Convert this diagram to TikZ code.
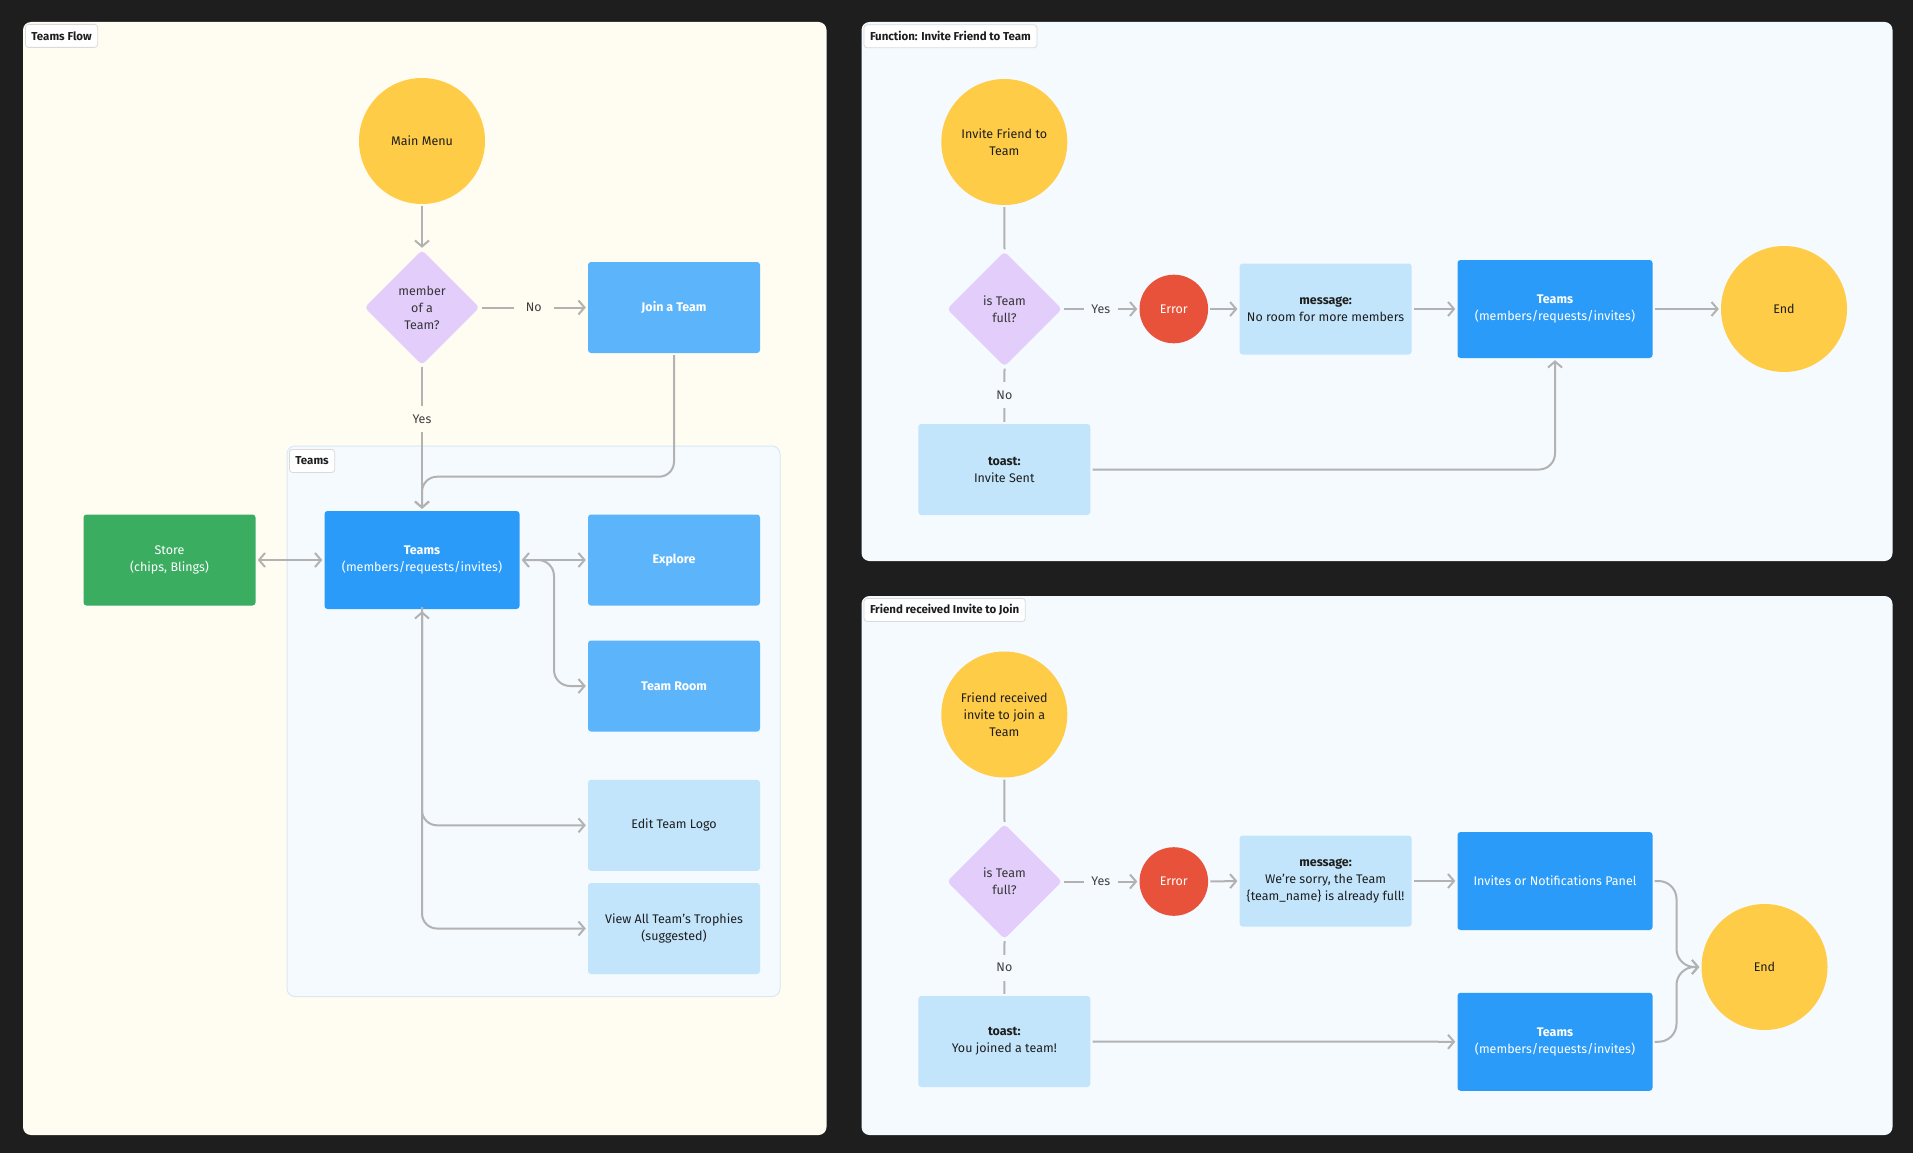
\documentclass[tikz,border=0pt]{standalone}
\usepackage{fontspec}
\setmainfont{Fira Sans}
\usetikzlibrary{shapes.geometric,arrows.meta,calc}

\definecolor{bgdark}{HTML}{1E1E1E}
\definecolor{cream}{HTML}{FFFDF1}
\definecolor{panelblue}{HTML}{F5FAFF}
\definecolor{subedge}{HTML}{D9E8F5}
\definecolor{yel}{HTML}{FFCC47}
\definecolor{lilac}{HTML}{E3CDFB}
\definecolor{midblue}{HTML}{5CB4FA}
\definecolor{deepblue}{HTML}{2B9BF9}
\definecolor{paleblue}{HTML}{C2E5FC}
\definecolor{grn}{HTML}{3AAD61}
\definecolor{errred}{HTML}{E9523A}
\definecolor{conngray}{HTML}{B2B2B2}
\definecolor{ink}{HTML}{1E1E1E}
\definecolor{tagedge}{HTML}{DADADA}

\begin{document}
\begin{tikzpicture}[x=1pt,y=-1pt,
  >={Straight Barb[length=6pt,width=14pt]},
  every node/.style={font=\fontsize{12.5}{17}\selectfont, text=ink},
  boxbase/.style={rectangle, rounded corners=3pt, inner sep=0pt, align=center},
  lbox/.style={boxbase, minimum width=172pt, minimum height=91pt},
  wbox/.style={boxbase, minimum width=195pt, minimum height=98pt},
  midbox/.style={lbox, fill=midblue, text=white, font=\fontsize{12.5}{17}\selectfont\bfseries},
  palebox/.style={lbox, fill=paleblue},
  deepbox/.style={wbox, fill=deepblue, text=white},
  greenbox/.style={lbox, fill=grn, text=white},
  startcirc/.style={circle, minimum size=126pt, inner sep=0pt, fill=yel, align=center},
  errcirc/.style={circle, minimum size=68.6pt, inner sep=0pt, fill=errred, text=white},
  decision/.style={diamond, minimum width=115pt, minimum height=115pt, inner sep=0pt, fill=lilac, rounded corners=4pt, align=center, text=ink!90},
  conn/.style={draw=conngray, line width=2pt, shorten >=2pt, shorten <=2pt},
  lab/.style={fill=#1, inner sep=0pt, minimum width=40pt, minimum height=26pt, text=ink!85},
  tag/.style={draw=tagedge, line width=0.8pt, fill=white, rounded corners=3pt, inner xsep=6pt, minimum height=23pt, anchor=north west, font=\fontsize{11.5}{13}\selectfont\bfseries},
]
\useasboundingbox (0,0) rectangle (1913,1153);
\fill[bgdark] (0,0) rectangle (1913,1153);

% ---------- panels ----------
\fill[cream, rounded corners=8pt] (23,22) rectangle (826.5,1135);
\fill[panelblue, rounded corners=8pt] (861.5,22) rectangle (1892.5,561);
\fill[panelblue, rounded corners=8pt] (861.5,596) rectangle (1892.5,1135);
\draw[subedge, line width=1pt, fill=panelblue, rounded corners=8pt] (287,446) rectangle (780,996.5);

\node[tag] (t1) at (25,24) {Teams Flow};
\node[tag] (t2) at (289,449) {Teams};
\node[tag] (t3) at (863.6,24.4) {Function: Invite Friend to Team};
\node[tag] (t4) at (863.6,598) {Friend received Invite to Join};

% ---------- Teams Flow ----------
\node[startcirc] (mm) at (422,141) {Main Menu};
\node[decision] (mq) at (422,307.5) {member\\of a\\Team?};
\node[midbox] (join) at (674,307.5) {Join a Team};
\node[deepbox] (tm) at (422,560) {\textbf{Teams}\\(members/requests/invites)};
\node[greenbox] (store) at (169.5,560) {Store\\(chips, Blings)};
\node[midbox] (explore) at (674,560) {Explore};
\node[midbox] (room) at (674,686) {Team Room};
\node[palebox] (logo) at (674,825.3) {Edit Team Logo};
\node[palebox] (troph) at (674,928.5) {View All Team’s Trophies\\(suggested)};

\coordinate (jy) at (0,476.7);
\coordinate (bx) at (554,0);

\draw[conn,->] (mm.south) -- (mq.north);
\draw[conn,->] (mq.east) -- node[lab=cream] {No} (join.west);
\draw[conn,->, rounded corners=15pt] (join.south) -- (join.south |- jy) -- (tm.north |- jy) -- (tm.north);
\draw[conn,->] (mq.south) -- node[lab=cream, pos=0.37] {Yes} (tm.north);
\draw[conn,<->] (store.east) -- (tm.west);
\draw[conn,<->] (tm.east) -- (explore.west);
\draw[conn,->, rounded corners=16pt] ([xshift=4pt]tm.east) -- (tm.east -| bx) -- (room.west -| bx) -- (room.west);
\draw[conn,<->, rounded corners=15pt] (tm.south) |- (troph.west);
\draw[conn,->, rounded corners=15pt] ([yshift=4pt]tm.south) |- (logo.west);

% ---------- Invite Friend ----------
\node[startcirc] (inv) at (1004.3,142) {Invite Friend to\\Team};
\node[decision] (q1) at (1004.5,309) {is Team\\full?};
\node[errcirc] (e1) at (1173.8,309) {Error};
\node[palebox] (m1) at (1325.6,309) {\textbf{message:}\\No room for more members};
\node[deepbox] (tm1) at (1555,309) {\textbf{Teams}\\(members/requests/invites)};
\node[startcirc] (end1) at (1784,309) {End};
\node[palebox] (ts1) at (1004.3,469.5) {\textbf{toast:}\\Invite Sent};

\draw[conn] (inv.south) -- (q1.north);
\draw[conn,->] (q1.east) -- node[lab=panelblue, minimum width=34pt] {Yes} (e1.west);
\draw[conn,->] (e1.east) -- (m1.west);
\draw[conn,->] (m1.east) -- (tm1.west);
\draw[conn,->] (tm1.east) -- (end1.west);
\draw[conn] (q1.south) -- node[lab=panelblue] {No} (ts1.north);
\draw[conn,->, rounded corners=16pt] (ts1.east) -| (tm1.south);

% ---------- Friend received ----------
\node[startcirc] (fr) at (1004.3,714.5) {Friend received\\invite to join a\\Team};
\node[decision] (q2) at (1004.5,881.5) {is Team\\full?};
\node[errcirc] (e2) at (1173.8,881.5) {Error};
\node[palebox] (m2) at (1325.6,881) {\textbf{message:}\\We’re sorry, the Team\\\{team\_name\} is already full!};
\node[deepbox] (inv2) at (1555,881) {Invites or Notifications Panel};
\node[startcirc] (end2) at (1764.5,967) {End};
\node[palebox] (ts2) at (1004.3,1041.5) {\textbf{toast:}\\You joined a team!};
\node[deepbox] (tm2) at (1555,1041.75) {\textbf{Teams}\\(members/requests/invites)};

\coordinate (ex) at (1676.5,0);

\draw[conn] (fr.south) -- (q2.north);
\draw[conn,->] (q2.east) -- node[lab=panelblue, minimum width=34pt] {Yes} (e2.west);
\draw[conn,->] (e2.east) -- (m2.west);
\draw[conn,->] (m2.east) -- (inv2.west);
\draw[conn] (q2.south) -- node[lab=panelblue] {No} (ts2.north);
\draw[conn,->] (ts2.east) -- (tm2.west);
\draw[conn,->, rounded corners=18pt] (inv2.east) -- (inv2.east -| ex) -- (end2.west -| ex) -- (end2.west);
\draw[conn,->, rounded corners=18pt] (tm2.east) -- (tm2.east -| ex) -- (end2.west -| ex) -- (end2.west);
\end{tikzpicture}
\end{document}
